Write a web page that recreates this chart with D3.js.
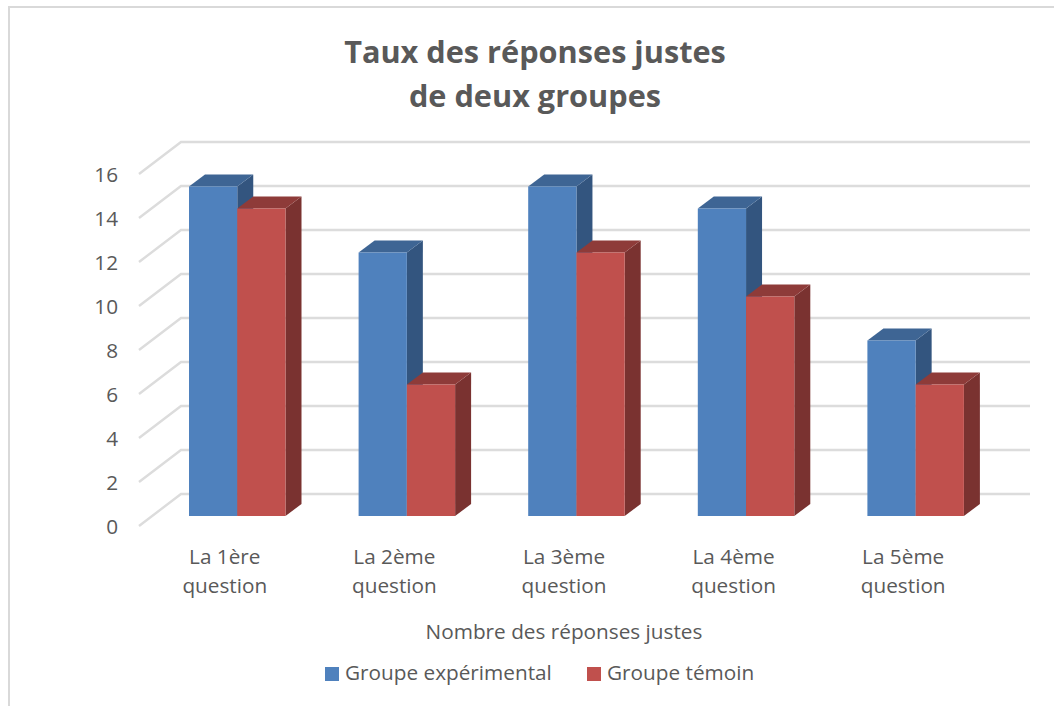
<!DOCTYPE html>
<html>
<head>
<meta charset="utf-8">
<script src="https://cdn.jsdelivr.net/npm/d3@7"></script>
<style>
  html, body { margin: 0; padding: 0; background: #fff; }
  svg { display: block; }
  text { font-family: "Open Sans", sans-serif; fill: #595959; }
</style>
</head>
<body>
<div id="chart"></div>
<script>
const categories = [['La 1ère', 'question'], ['La 2ème', 'question'], ['La 3ème', 'question'], ['La 4ème', 'question'], ['La 5ème', 'question']]
const experimental = [15, 12, 15, 14, 8]
const temoin = [14, 6, 12, 10, 6]
const yTicks = [0, 2, 4, 6, 8, 10, 12, 14, 16]
const titleLines = ['Taux des réponses justes', 'de deux groupes']
const axisTitle = 'Nombre des réponses justes'
const seriesNames = ['Groupe expérimental', 'Groupe témoin']

const width = 1054, height = 706
const labelSize = 20.75

// projection of the 3d box: wall sits up/right of the floor front edge
const depthX = 16, depthY = 12
const wallDX = 42, wallDY = 32

const series = [
    { name: seriesNames[0], values: experimental, front: '#4f81bd', top: '#3e6594', side: '#33557f' },
    { name: seriesNames[1], values: temoin, front: '#c0504d', top: '#8e3b39', side: '#7a3230' }
]

const svg = d3.select('#chart').append('svg')
    .attr('width', width).attr('height', height)

// chart frame, only top and left show
svg.append('path')
    .attr('d', d3.line()([[9, 706], [9, 7], [1054, 7]]))
    .attr('fill', 'none').attr('stroke', '#d9d9d9').attr('stroke-width', 2)

// y is the front floor edge
const yScale = d3.scaleLinear().domain([0, 16]).range([526, 174])
const xBand = d3.scaleBand().domain(d3.range(categories.length)).range([139, 987])
const barX = d3.scaleBand().domain([0, 1]).range([50, 146.5])

const grid = svg.append('g')
    .attr('fill', 'none').attr('stroke', '#dcdcdc').attr('stroke-width', 2.4)

grid.selectAll('path').data(yTicks).enter().append('path')
    .attr('d', d => d3.line()([
        [xBand.range()[0], yScale(d)],
        [xBand.range()[0] + wallDX, yScale(d) - wallDY],
        [xBand.range()[1] + wallDX + 1, yScale(d) - wallDY]
    ]))

svg.append('g').selectAll('text').data(yTicks).enter().append('text')
    .attr('x', 118)
    .attr('y', d => yScale(d) + 1)
    .attr('dy', '0.35em')
    .attr('text-anchor', 'end')
    .attr('font-size', labelSize)
    .text(d => d)

// bars stand 10px behind the front floor edge
const barBase = v => yScale(v) - 10

categories.forEach((c, i) => {
    const g = svg.append('g').attr('transform', 'translate(' + xBand(i) + ',0)')
    series.forEach((s, k) => {
        const x0 = barX(k), x1 = barX(k) + barX.bandwidth()
        const yTop = barBase(s.values[i]) + 0.5, yBot = barBase(0)
        g.append('path')
            .attr('fill', s.side)
            .attr('d', d3.line()([[x1, yTop], [x1 + depthX, yTop - depthY], [x1 + depthX, yBot - depthY], [x1, yBot]]) + 'Z')
        g.append('path')
            .attr('fill', s.top)
            .attr('d', d3.line()([[x0, yTop], [x0 + depthX, yTop - depthY], [x1 + depthX, yTop - depthY], [x1, yTop]]) + 'Z')
        g.append('rect')
            .attr('x', x0).attr('y', yTop)
            .attr('width', barX.bandwidth()).attr('height', yBot - yTop)
            .attr('fill', s.front)
    })
    const label = g.append('text')
        .attr('text-anchor', 'middle')
        .attr('font-size', labelSize)
    c.forEach((line, j) => {
        label.append('tspan')
            .attr('x', xBand.bandwidth() / 2 + 1)
            .attr('y', 564 + j * 29)
            .text(line)
    })
})

svg.append('g').selectAll('text').data(titleLines).enter().append('text')
    .attr('x', 535)
    .attr('y', (d, i) => 63 + i * 44)
    .attr('text-anchor', 'middle')
    .attr('font-size', 30.7)
    .attr('font-weight', 'bold')
    .text(d => d)

svg.append('text')
    .attr('x', 564).attr('y', 639)
    .attr('text-anchor', 'middle')
    .attr('font-size', labelSize)
    .text(axisTitle)

const legendX = [325, 587]
const legend = svg.append('g').selectAll('g').data(series).enter().append('g')
    .attr('transform', (d, i) => 'translate(' + legendX[i] + ',667)')
legend.append('rect')
    .attr('width', 14).attr('height', 14)
    .attr('fill', d => d.front)
legend.append('text')
    .attr('x', 20).attr('y', 13)
    .attr('font-size', labelSize)
    .text(d => d.name)
</script>
</body>
</html>
